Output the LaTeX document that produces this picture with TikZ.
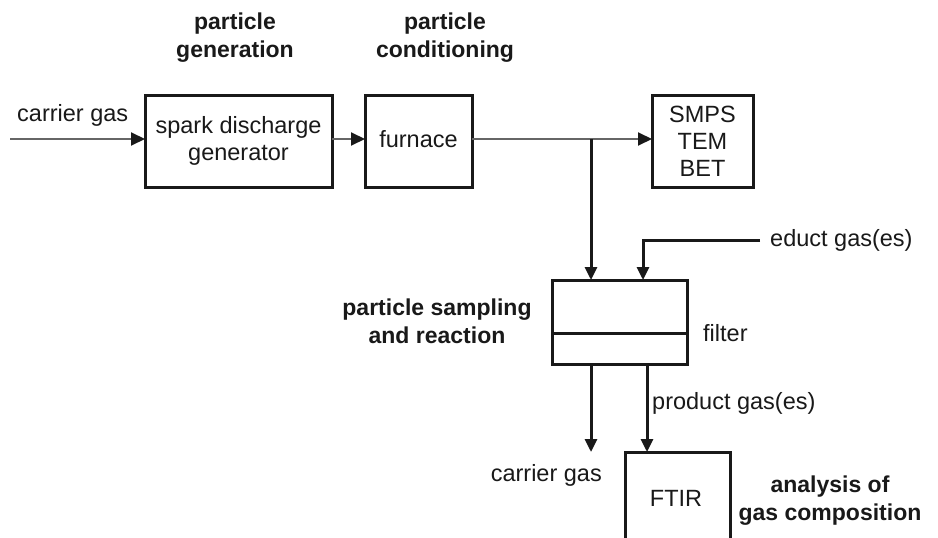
\documentclass[tikz,border=0pt]{standalone}
\usepackage{fontspec}
\setmainfont{Liberation Sans}
\usetikzlibrary{arrows.meta}
\begin{document}
\begin{tikzpicture}[x=1pt,y=-1pt,
  box/.style={draw=black!90,line width=3pt},
  thinflow/.style={draw=black!60,line width=2pt,-{Triangle[length=14pt,width=13pt,fill=black!90,color=black!90]}},
  thickflow/.style={draw=black!90,line width=3pt,-{Triangle[length=13pt,width=12pt]}},
  lbl/.style={font=\fontsize{23.5}{27}\selectfont,text=black!90,inner sep=0pt},
  head/.style={font=\fontsize{23}{28}\selectfont\bfseries,text=black!90,inner sep=0pt,align=center}]
\useasboundingbox[fill=white] (0,0) rectangle (938,538);

% boxes
\draw[box] (145,95) rectangle (332,187);
\node[lbl,align=center] (spark) at (238.5,141) {spark discharge\\generator};
\coordinate (sparkW) at (145,139);
\coordinate (sparkE) at (332,139);

\draw[box] (365,95) rectangle (472,187);
\node[lbl] (furn) at (418.5,139) {furnace};
\coordinate (furnW) at (365,139);
\coordinate (furnE) at (472,139);

\draw[box] (652,95) rectangle (753,187);
\node[lbl,align=center] (smps) at (702.5,141) {SMPS\\TEM\\BET};
\coordinate (smpsW) at (652,139);

\draw[box] (552,280) rectangle (687,364);
\draw[box] (552,333) -- (687,333);
\coordinate (sampTopL) at (591,280);
\coordinate (sampTopR) at (643,280);
\coordinate (sampBotL) at (591,364);
\coordinate (sampBotR) at (647,364);

\draw[box] (625,540) -- (625,452) -- (730,452) -- (730,540);
\coordinate (ftirTop) at (647,452);
\node[lbl] (ftir) at (676,498) {FTIR};

% headings
\node[head] (hgen) at (235,38) {particle\\generation};
\node[head] (hcond) at (445,38) {particle\\conditioning};
\node[head] (hsamp) at (437,321) {particle sampling\\and reaction};
\node[head] (hana) at (830,501) {analysis of\\gas composition};

% labels
\node[lbl,anchor=south west] (cgin) at (17,127) {carrier gas};
\node[lbl,anchor=west] (educt) at (770,240) {educt gas(es)};
\node[lbl,anchor=west] (filt) at (703,333) {filter};
\node[lbl,anchor=west] (prod) at (652,403) {product gas(es)};
\node[lbl,anchor=east] (cgout) at (602,475) {carrier gas};

% flows
\coordinate (inStart) at (10,139);
\coordinate (branch) at (591,139);
\coordinate (eductStart) at (760,240);
\coordinate (eductCorner) at (643,240);
\coordinate (outEnd) at (591,452);

\draw[thinflow] (inStart) -- (sparkW);
\draw[thinflow] (sparkE) -- (furnW);
\draw[thinflow] (furnE) -- (smpsW);
\draw[thickflow] (branch) -- (sampTopL);
\draw[thickflow] (eductStart) -- (eductCorner) -- (sampTopR);
\draw[thickflow] (sampBotL) -- (outEnd);
\draw[thickflow] (sampBotR) -- (ftirTop);
\end{tikzpicture}
\end{document}
